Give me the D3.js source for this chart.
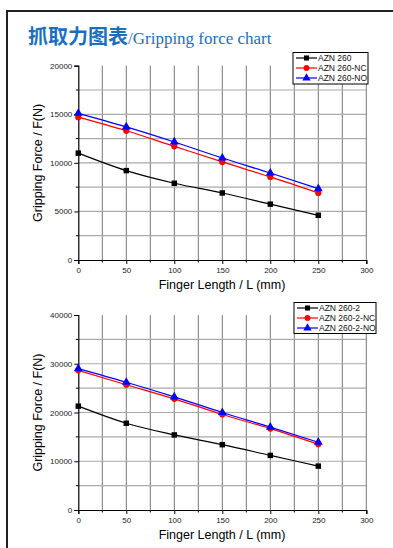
<!DOCTYPE html>
<html lang="zh">
<head>
    <meta charset="UTF-8">
    <title>抓取力图表</title>
    <script src="https://d3js.org/d3.v7.min.js"></script>
    <style>
        body { margin: 0; background: #fff; }
        svg { display: block; }
    </style>
</head>
<body>
    <svg></svg>

    <script>
const width = 393, height = 548;

// finger length (mm)
const lengths = [0, 50, 100, 150, 200, 250];

// chart 1 - AZN 260
const names1 = ["AZN 260", "AZN 260-NC", "AZN 260-NO"];
const azn260 = [11000, 9200, 7900, 6900, 5750, 4600];
const azn260NC = [14700, 13300, 11700, 10100, 8550, 6900];
const azn260NO = [15100, 13700, 12150, 10500, 8950, 7350];

// chart 2 - AZN 260-2
const names2 = ["AZN 260-2", "AZN 260-2-NC", "AZN 260-2-NO"];
const azn2602 = [21300, 17800, 15400, 13400, 11200, 9000];
const azn2602NC = [28650, 25700, 22800, 19600, 16700, 13500];
const azn2602NO = [29000, 26200, 23200, 20000, 17000, 13900];

const xTicks = [0, 50, 100, 150, 200, 250, 300];
const yTicks1 = [0, 5000, 10000, 15000, 20000];
const yTicks2 = [0, 10000, 20000, 30000, 40000];

const colors = ["#000000", "#ff0000", "#0000ff"];
const symbols = [d3.symbolSquare, d3.symbolCircle, d3.symbolTriangle];

const svg = d3.select("svg")
    .attr("width", width)
    .attr("height", height);

// page frame
svg.append("path")
    .attr("d", "M7,548 V11 H393")
    .attr("fill", "none")
    .attr("stroke", "#222")
    .attr("stroke-width", 2);

// title
const title = svg.append("text")
    .attr("x", 28)
    .attr("y", 44)
    .attr("fill", "#1a70c0");
title.append("tspan")
    .attr("font-family", "Noto Sans CJK SC")
    .attr("font-weight", "bold")
    .attr("font-size", 20)
    .text("抓取力图表");
title.append("tspan")
    .attr("font-family", "Liberation Serif")
    .attr("font-size", 17)
    .text("/Gripping force chart");

function drawChart(top, bottom, yMax, yTicks, series, names, legendBox) {
    const x = d3.scaleLinear().domain([0, 300]).range([78.3, 366.3]);
    const y = d3.scaleLinear().domain([0, yMax]).range([bottom, top]);
    const g = svg.append("g");

    // grid
    const xGrid = d3.range(25, 301, 25);
    const yGrid = d3.range(1, 8).map(i => i * yMax / 8);
    g.selectAll(".vg").data(xGrid).join("line")
        .attr("x1", d => x(d)).attr("x2", d => x(d))
        .attr("y1", y(yMax)).attr("y2", y(0))
        .attr("stroke", "#777").attr("stroke-width", 1);
    g.selectAll(".hg").data(yGrid).join("line")
        .attr("x1", x(0)).attr("x2", x(300))
        .attr("y1", d => y(d)).attr("y2", d => y(d))
        .attr("stroke", "#aaa").attr("stroke-width", 1.2);

    // axes
    const xAxis = g.append("g")
        .attr("transform", `translate(0,${y(0)})`)
        .call(d3.axisBottom(x).tickValues(xTicks).tickSize(4).tickPadding(3));
    const yAxis = g.append("g")
        .attr("transform", `translate(${x(0)},0)`)
        .call(d3.axisLeft(y).tickValues(yTicks).tickSize(4).tickPadding(2).tickFormat(d3.format("d")));
    [xAxis, yAxis].forEach(a => {
        a.select(".domain").attr("stroke", "#000").attr("stroke-width", 1.2);
        a.selectAll("text").attr("font-family", "Liberation Sans").attr("font-size", 8).attr("fill", "#222");
    });
    // minor ticks
    g.selectAll(".mx").data(d3.range(25, 300, 50)).join("line")
        .attr("x1", d => x(d)).attr("x2", d => x(d))
        .attr("y1", y(0)).attr("y2", y(0) + 2.5).attr("stroke", "#000");
    g.selectAll(".my").data(d3.range(1, 8, 2).map(i => i * yMax / 8)).join("line")
        .attr("x1", x(0) - 2.5).attr("x2", x(0))
        .attr("y1", d => y(d)).attr("y2", d => y(d)).attr("stroke", "#000");

    // axis titles
    g.append("text")
        .attr("x", 222).attr("y", bottom + 29)
        .attr("text-anchor", "middle")
        .attr("font-family", "Liberation Sans").attr("font-size", 12.5)
        .text("Finger Length / L (mm)");
    g.append("text")
        .attr("transform", `translate(42,${(top + bottom) / 2}) rotate(-90)`)
        .attr("text-anchor", "middle")
        .attr("font-family", "Liberation Sans").attr("font-size", 12.5)
        .text("Gripping Force / F(N)");

    // lines + markers
    const line = d3.line()
        .x((d, i) => x(lengths[i]))
        .y(d => y(d))
        .curve(d3.curveMonotoneX);
    series.forEach((s, k) => {
        g.append("path")
            .datum(s)
            .attr("d", line)
            .attr("fill", "none")
            .attr("stroke", colors[k])
            .attr("stroke-width", 1.2);
        g.selectAll(".m" + k).data(s).join("path")
            .attr("transform", (d, i) => `translate(${x(lengths[i])},${y(d)})`)
            .attr("d", d3.symbol().type(symbols[k]).size(k == 2 ? 34 : 30))
            .attr("fill", colors[k]);
    });

    // legend
    const lg = g.append("g");
    lg.append("rect")
        .attr("x", legendBox[0]).attr("y", legendBox[1])
        .attr("width", legendBox[2]).attr("height", legendBox[3])
        .attr("fill", "#fff").attr("stroke", "#000").attr("stroke-width", 1);
    names.forEach((n, k) => {
        const ly = legendBox[1] + 5.5 + k * 10;
        const lx = legendBox[0] + 3;
        lg.append("line")
            .attr("x1", lx).attr("x2", lx + 21)
            .attr("y1", ly).attr("y2", ly)
            .attr("stroke", colors[k]).attr("stroke-width", 1.2);
        lg.append("path")
            .attr("transform", `translate(${lx + 10.5},${ly})`)
            .attr("d", d3.symbol().type(symbols[k]).size(k == 2 ? 30 : 26))
            .attr("fill", colors[k]);
        lg.append("text")
            .attr("x", lx + 22).attr("y", ly + 3)
            .attr("font-family", "Liberation Sans").attr("font-size", 8.5)
            .attr("fill", "#111")
            .text(n);
    });
}

drawChart(65.7, 260, 20000, yTicks1, [azn260, azn260NC, azn260NO], names1, [293, 52.5, 75, 31.5]);
drawChart(315, 510, 40000, yTicks2, [azn2602, azn2602NC, azn2602NO], names2, [294, 302.5, 82, 31]);
    </script>
</body>
</html>
